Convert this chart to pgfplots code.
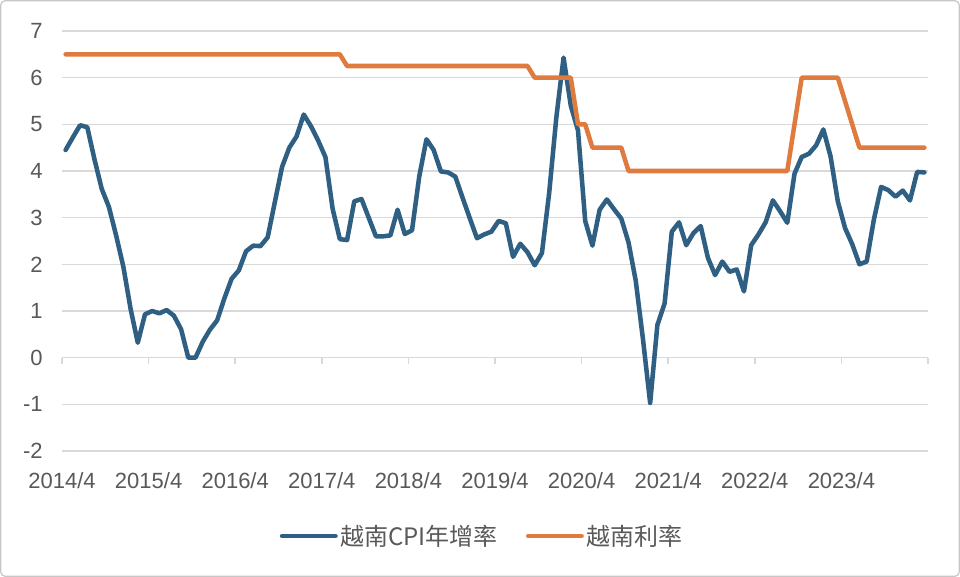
\documentclass[border=0pt]{standalone}
\usepackage{pgfplots}
\usepackage{pgfplotstable}
\pgfplotsset{compat=1.18}
\usepackage{fontspec}
\setmainfont{Liberation Sans}
\newfontfamily\cjk{Noto Sans CJK SC}
\definecolor{cpiblue}{RGB}{47,96,131}
\definecolor{rateorange}{RGB}{224,123,64}
\definecolor{gridgray}{RGB}{217,217,217}
\definecolor{txtgray}{RGB}{89,89,89}

\pgfplotstableread{
i cpi rate
0 4.45 6.5
1 4.72 6.5
2 4.98 6.5
3 4.94 6.5
4 4.25 6.5
5 3.62 6.5
6 3.23 6.5
7 2.62 6.5
8 1.95 6.5
9 1.05 6.5
10 0.32 6.5
11 0.93 6.5
12 1.00 6.5
13 0.95 6.5
14 1.02 6.5
15 0.90 6.5
16 0.61 6.5
17 0.00 6.5
18 0.00 6.5
19 0.34 6.5
20 0.60 6.5
21 0.80 6.5
22 1.27 6.5
23 1.69 6.5
24 1.87 6.5
25 2.28 6.5
26 2.40 6.5
27 2.39 6.5
28 2.58 6.5
29 3.34 6.5
30 4.09 6.5
31 4.50 6.5
32 4.74 6.5
33 5.21 6.5
34 4.96 6.5
35 4.65 6.5
36 4.30 6.5
37 3.19 6.5
38 2.54 6.5
39 2.52 6.25
40 3.35 6.25
41 3.40 6.25
42 3.00 6.25
43 2.60 6.25
44 2.60 6.25
45 2.62 6.25
46 3.17 6.25
47 2.65 6.25
48 2.73 6.25
49 3.88 6.25
50 4.68 6.25
51 4.45 6.25
52 3.99 6.25
53 3.97 6.25
54 3.88 6.25
55 3.43 6.25
56 2.99 6.25
57 2.56 6.25
58 2.64 6.25
59 2.70 6.25
60 2.93 6.25
61 2.88 6.25
62 2.16 6.25
63 2.44 6.25
64 2.26 6.25
65 1.98 6.0
66 2.24 6.0
67 3.52 6.0
68 5.15 6.0
69 6.43 6.0
70 5.40 6.0
71 4.87 5.0
72 2.93 5.0
73 2.40 4.5
74 3.17 4.5
75 3.39 4.5
76 3.18 4.5
77 2.98 4.5
78 2.47 4.0
79 1.65 4.0
80 0.40 4.0
81 -0.97 4.0
82 0.70 4.0
83 1.16 4.0
84 2.70 4.0
85 2.90 4.0
86 2.41 4.0
87 2.67 4.0
88 2.82 4.0
89 2.14 4.0
90 1.77 4.0
91 2.06 4.0
92 1.84 4.0
93 1.89 4.0
94 1.42 4.0
95 2.41 4.0
96 2.64 4.0
97 2.90 4.0
98 3.37 4.0
99 3.14 4.0
100 2.89 4.0
101 3.94 5.0
102 4.30 6.0
103 4.37 6.0
104 4.55 6.0
105 4.89 6.0
106 4.31 6.0
107 3.35 6.0
108 2.78 5.5
109 2.43 5.0
110 2.00 4.5
111 2.06 4.5
112 2.96 4.5
113 3.66 4.5
114 3.59 4.5
115 3.45 4.5
116 3.58 4.5
117 3.37 4.5
118 3.98 4.5
119 3.97 4.5
}\datatable

\begin{document}
\begin{tikzpicture}
\path[use as bounding box, fill=white] (0,0) rectangle (720pt,432.75pt);
\draw[black!22, line width=0.9pt, rounded corners=3pt] (0.6pt,0.6pt) rectangle (719.4pt,432.15pt);
\begin{axis}[
  at={(46.5pt,94.5pt)}, anchor=south west,
  width=649.5pt, height=315pt, scale only axis,
  xmin=-0.5, xmax=119.5, ymin=-2, ymax=7,
  ytick={-2,-1,0,1,2,3,4,5,6,7},
  xtick={-0.5,11.5,23.5,35.5,47.5,59.5,71.5,83.5,95.5,107.5},
  xticklabels={2014/4,2015/4,2016/4,2017/4,2018/4,2019/4,2020/4,2021/4,2022/4,2023/4},
  axis line style={draw=none},
  major tick length=0pt,
  ymajorgrids,
  grid style={gridgray, line width=1.1pt},
  tick label style={font=\fontsize{16.5}{18}\selectfont, text=txtgray},
  xticklabel style={yshift=-12.5pt},
  yticklabel style={xshift=-11pt},
  /pgf/number format/assume math mode=true,
  clip=false,
  legend style={at={(0.4856,-0.2024)}, anchor=center, draw=none, fill=none,
    legend columns=2, font=\cjk\fontsize{18}{20}\selectfont, text=txtgray,
    /tikz/every even column/.append style={column sep=19pt},
    /tikz/every odd column/.append style={inner xsep=1pt},
    legend cell align=left},
  legend image code/.code={\draw[#1, line width=3.4pt, line cap=round] (0pt,0pt) -- (40pt,0pt);},
]
\pgfplotsinvokeforeach{-0.5,11.5,23.5,35.5,47.5,59.5,71.5,83.5,95.5,107.5,119.5}{
  \draw[gridgray, line width=1.1pt] (axis cs:#1,0) -- ++(0pt,-4.5pt);
}
\addplot[cpiblue, line width=3.4pt, line join=round, line cap=round] table[x=i, y=cpi] {\datatable};
\addlegendentry{越南CPI年增率}
\addplot[rateorange, line width=3.4pt, line join=round, line cap=round] table[x=i, y=rate] {\datatable};
\addlegendentry{越南利率}
\end{axis}
\end{tikzpicture}
\end{document}
